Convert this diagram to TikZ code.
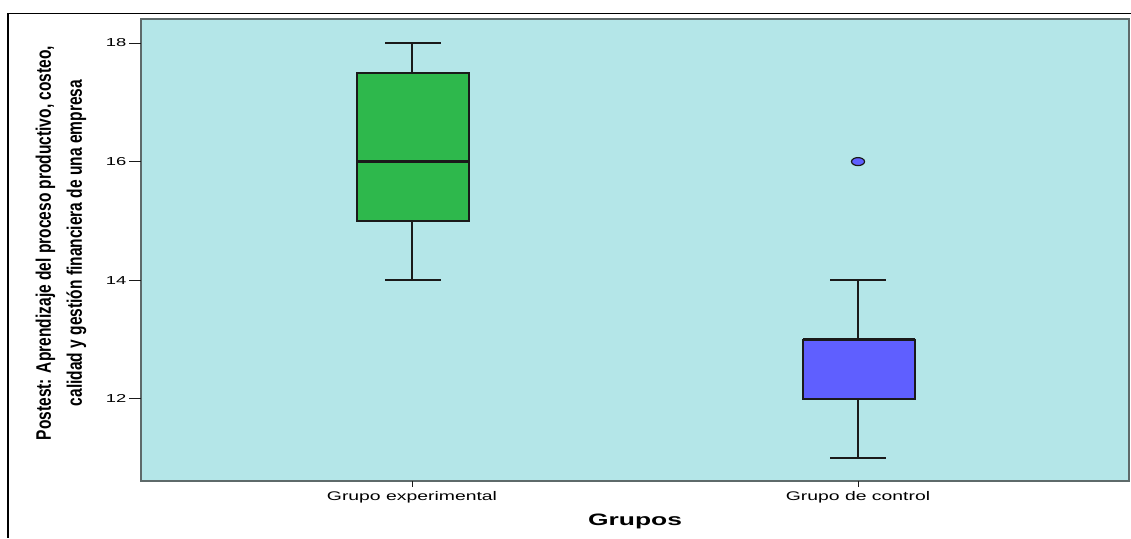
\documentclass[tikz,border=0pt]{standalone}
\usepackage{fontspec}
\setmainfont{Liberation Sans}
\newfontfamily\tickfont[FakeStretch=1.6]{Liberation Sans}
\newfontfamily\catfont[FakeStretch=1.55]{Liberation Sans}
\newfontfamily\titfont[FakeStretch=1.6]{Liberation Sans}
\newfontfamily\ylabfont[FakeStretch=0.74]{Liberation Sans}
\definecolor{plotbg}{HTML}{B4E6E8}
\definecolor{framegray}{HTML}{5E6A6A}
\definecolor{boxgreen}{HTML}{2EB84C}
\definecolor{boxblue}{HTML}{5F5FFF}
\definecolor{inkdark}{HTML}{1A1A1A}
\tikzset{
  whisk/.style={draw=inkdark, line width=2.3pt},
  boxfill/.style={draw=inkdark, line width=1.7pt},
  medline/.style={draw=inkdark, line width=2.3pt},
  tickline/.style={draw=inkdark, line width=1pt},
  ticklab/.style={font=\tickfont\fontsize{11.5}{12}\selectfont, text=black, inner sep=0pt},
  catlab/.style={font=\catfont\fontsize{12.5}{13}\selectfont, text=black, inner sep=0pt},
}
\begin{document}
\begin{tikzpicture}[x=1pt,y=-1pt,declare function={Y(\v)=43+(18-\v)*59.3;}]
\fill[white] (0,0) rectangle (1131,538);
\useasboundingbox (0,0) rectangle (1131,538);
% outer frame
\draw[black, line width=1.2pt] (1131,13.5) -- (8,13.5) -- (8,538);
% plot area
\fill[plotbg] (141,19) rectangle (1129,481);
\draw[framegray, line width=2.6pt] (141,19) rectangle (1129,481);
% y ticks
\foreach \v in {12,14,16,18}{
  \draw[tickline] (129,{Y(\v)}) -- (141,{Y(\v)});
  \node[ticklab, anchor=east] (t\v) at (126.5,{Y(\v)}) {\v};
}
% x ticks
\draw[tickline] (412,481) -- (412,487);
\draw[tickline] (858,481) -- (858,487);
\node[catlab] (gexp) at (412,497.5) {Grupo experimental};
\node[catlab] (gcon) at (858,497.5) {Grupo de control};
\node[font=\titfont\bfseries\fontsize{16.5}{17}\selectfont, inner sep=0pt] (xlab) at (635,521) {Grupos};
% y label
\node[rotate=90, align=center, inner sep=0pt, font=\ylabfont\bfseries\fontsize{21}{31}\selectfont] (ylab) at (61,243)
  {Postest: Aprendizaje del proceso productivo, costeo,\\calidad y gestión financiera de una empresa};
% experimental group
\draw[whisk] (412,{Y(17.5)}) -- (412,{Y(18)});
\draw[whisk] (385,{Y(18)}) -- (441,{Y(18)});
\draw[whisk] (412,{Y(15)}) -- (412,{Y(14)});
\draw[whisk] (385,{Y(14)}) -- (441,{Y(14)});
\filldraw[boxfill, fill=boxgreen] (357,{Y(17.5)}) rectangle (469,{Y(15)});
\draw[medline] (357,{Y(16)}) -- (469,{Y(16)});
% control group
\draw[whisk] (858,{Y(13)}) -- (858,{Y(14)});
\draw[whisk] (830,{Y(14)}) -- (886,{Y(14)});
\draw[whisk] (858,{Y(12)}) -- (858,{Y(11)});
\draw[whisk] (830,{Y(11)}) -- (886,{Y(11)});
\filldraw[boxfill, fill=boxblue] (803,{Y(13)}) rectangle (915,{Y(12)});
\draw[medline, line width=3pt] (803,{Y(13)}) -- (915,{Y(13)});
% outlier
\filldraw[fill=boxblue, draw=inkdark, line width=1.2pt] (858,{Y(16)}) ellipse [x radius=6.5, y radius=4];
\end{tikzpicture}
\end{document}
